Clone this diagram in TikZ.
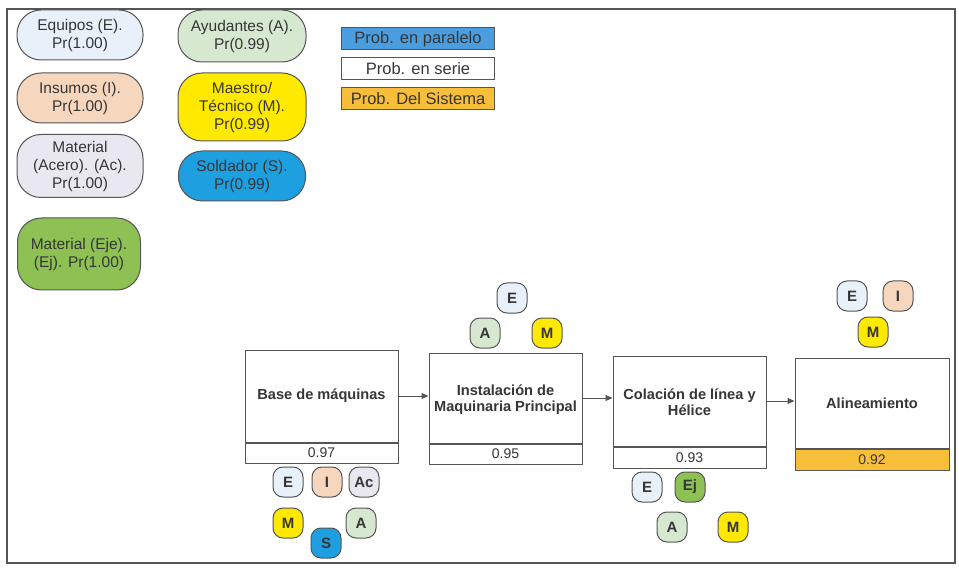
\documentclass[tikz,border=0pt]{standalone}
\usepackage{fontspec}
\setmainfont{Liberation Sans}
\usetikzlibrary{arrows.meta}

\definecolor{inkc}{HTML}{363636}
\definecolor{linec}{HTML}{555555}
\definecolor{cE}{HTML}{E8F0FA}
\definecolor{cI}{HTML}{F7D6BE}
\definecolor{cAc}{HTML}{E9E8F1}
\definecolor{cEj}{HTML}{8DC153}
\definecolor{cA}{HTML}{D6E9D0}
\definecolor{cM}{HTML}{FFE900}
\definecolor{cS}{HTML}{1E9FE0}
\definecolor{cPar}{HTML}{4A9EE0}
\definecolor{cSys}{HTML}{F7BE3A}

\tikzset{
  legpill/.style={draw=linec, line width=1pt, rounded corners=24pt, align=center,
    text=inkc, font=\fontsize{15.5}{18}\selectfont, inner sep=1pt},
  legbox/.style={draw=linec, line width=1pt, minimum width=153pt, minimum height=22pt,
    inner sep=0pt, text=inkc, font=\fontsize{16.5}{18}\selectfont},
  procbox/.style={draw=linec, line width=1pt, align=center, inner sep=0pt,
    text=inkc, font=\bfseries\fontsize{14.6}{16}\selectfont},
  valbox/.style={draw=linec, line width=1pt, inner sep=0pt,
    text=inkc, font=\fontsize{14}{16}\selectfont},
  tag/.style={draw=linec, line width=1pt, rounded corners=10pt, minimum width=30pt,
    minimum height=30pt, inner sep=0pt, text=inkc, font=\bfseries\fontsize{15}{16}\selectfont},
  flow/.style={draw=linec, line width=1pt, -{Triangle[length=7pt,width=6pt]}},
}

\begin{document}
\begin{tikzpicture}[x=1pt,y=-1pt]
\useasboundingbox (0,0) rectangle (959,572);
\fill[white] (0,0) rectangle (959,572);

% outer frame
\draw[linec, line width=1.6pt] (7,9) rectangle (955,563);

% resource legend
\node[legpill, fill=cE,  minimum width=126pt, minimum height=50pt] (lE)  at (80,35)  {Equipos (E).\\Pr(1.00)};
\node[legpill, fill=cI,  minimum width=126pt, minimum height=50pt] (lI)  at (80,98)  {Insumos (I).\\Pr(1.00)};
\node[legpill, fill=cAc, minimum width=126pt, minimum height=63pt] (lAc) at (80,166) {Material\\(Acero). (Ac).\\Pr(1.00)};
\node[legpill, fill=cEj, minimum width=123pt, minimum height=72pt] (lEj) at (79,254) {Material (Eje).\\(Ej). Pr(1.00)};
\node[legpill, fill=cA,  minimum width=128pt, minimum height=52pt] (lA)  at (242,36) {Ayudantes (A).\\Pr(0.99)};
\node[legpill, fill=cM,  minimum width=128pt, minimum height=68pt] (lM)  at (242,107) {Maestro/\\Técnico (M).\\Pr(0.99)};
\node[legpill, fill=cS,  minimum width=127pt, minimum height=50pt] (lS)  at (242,176) {Soldador (S).\\Pr(0.99)};

% probability legend
\node[legbox, fill=cPar]  (kPar) at (418,39) {Prob. en paralelo};
\node[legbox, fill=white] (kSer) at (418,69) {Prob. en serie};
\node[legbox, fill=cSys]  (kSys) at (418,99) {Prob. Del Sistema};

% process stages
\node[procbox, minimum width=153pt, minimum height=92pt] (b1) at (321.5,396) {Base de máquinas};
\node[valbox, fill=white, minimum width=153pt, minimum height=20pt, anchor=north] (v1) at (b1.south) {0.97};
\node[procbox, minimum width=153pt, minimum height=90pt] (b2) at (505.5,398) {\rule{0pt}{14pt}Instalación de\\Maquinaria Principal};
\node[valbox, fill=white, minimum width=153pt, minimum height=20pt, anchor=north] (v2) at (b2.south) {0.95};
\node[procbox, minimum width=153pt, minimum height=90pt] (b3) at (689.5,401) {\rule{0pt}{14pt}Colación de línea y\\Hélice};
\node[valbox, fill=white, minimum width=153pt, minimum height=21pt, anchor=north] (v3) at (b3.south) {0.93};
\node[procbox, minimum width=154pt, minimum height=90pt] (b4) at (872,403) {Alineamiento};
\node[valbox, fill=cSys, minimum width=154pt, minimum height=21pt, anchor=north] (v4) at (b4.south) {0.92};

\draw[flow] (b1.east) -- (b1.east -| b2.west);
\draw[flow] (b2.east) -- (b2.east -| b3.west);
\draw[flow] (b3.east) -- (b3.east -| b4.west);

% resources of stage 1
\node[tag, fill=cE]  (t1E)  at (288,482) {E};
\node[tag, fill=cI]  (t1I)  at (327,482) {I};
\node[tag, fill=cAc] (t1Ac) at (364,482) {Ac};
\node[tag, fill=cM]  (t1M)  at (288,523) {M};
\node[tag, fill=cA]  (t1A)  at (361,523) {A};
\node[tag, fill=cS]  (t1S)  at (326,543) {S};

% resources of stage 2
\node[tag, fill=cE] (t2E) at (512,298) {E};
\node[tag, fill=cA] (t2A) at (485,333) {A};
\node[tag, fill=cM] (t2M) at (547,333) {M};

% resources of stage 3
\node[tag, fill=cE]  (t3E)  at (647,487) {E};
\node[tag, fill=cEj] (t3Ej) at (690,487) {Ej};
\node[tag, fill=cA]  (t3A)  at (672,527) {A};
\node[tag, fill=cM]  (t3M)  at (733,527) {M};

% resources of stage 4
\node[tag, fill=cE] (t4E) at (852,296) {E};
\node[tag, fill=cI] (t4I) at (898,296) {I};
\node[tag, fill=cM] (t4M) at (873,332) {M};
\end{tikzpicture}
\end{document}
